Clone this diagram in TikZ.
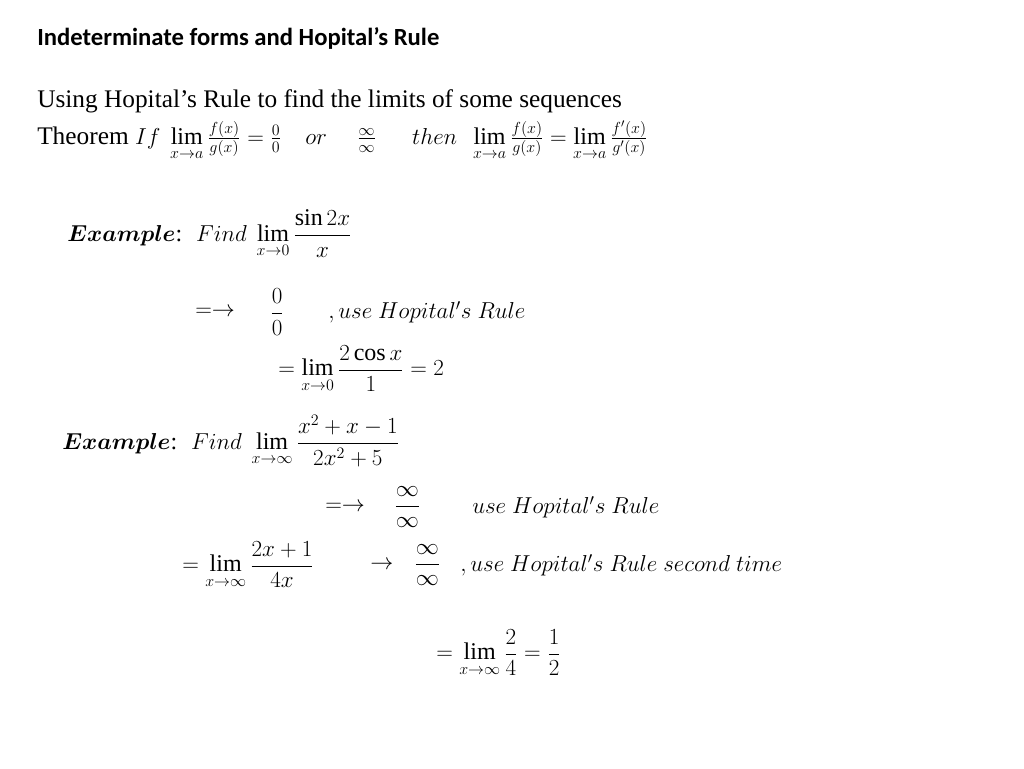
\documentclass[tikz,border=0pt]{standalone}
\usepackage{amsmath,amssymb,bm}
\usepackage{fontspec}
\setmainfont{Liberation Serif}
\newfontfamily\titlefont{Carlito}
\usetikzlibrary{positioning}
\tikzset{
  line/.style={anchor=west,inner sep=0pt,font=\fontsize{18}{21}\selectfont},
  plain/.style={anchor=west,inner sep=0pt,font=\fontsize{19}{22}\selectfont},
  heading/.style={anchor=west,inner sep=0pt,font=\titlefont\bfseries\fontsize{18.5}{22}\selectfont}
}
\begin{document}
\begin{tikzpicture}[x=0.75pt,y=0.75pt,yscale=-1,xscale=1]
  \useasboundingbox (0,0) rectangle (1024,768);
  \node[heading] (title) at (37,38) {Indeterminate forms and Hopital’s Rule};
  \node[plain] (intro) at (37,101) {Using Hopital’s Rule to find the limits of some sequences};
  \node[plain] (thm) at (37,141) {Theorem {\fontsize{18}{21}\selectfont$If\ \displaystyle\lim_{x\to a}\tfrac{f(x)}{g(x)}=\tfrac{0}{0}\quad or\quad\ \tfrac{\infty}{\infty}\quad\ \ then\ \ \lim_{x\to a}\tfrac{f(x)}{g(x)}=\lim_{x\to a}\tfrac{f'(x)}{g'(x)}$}};
  % first example
  \node[line] (exA) at (67,234) {$\bm{Example}$: \ $Find\ \displaystyle\lim_{x\to0}\frac{\sin 2x}{x}$};
  \node[line] (exAa) at (195,312) {$=\rightarrow$};
  \node[line] (exAb) at (270,312) {$\displaystyle\frac{0}{0}$};
  \node[line] (exAc) at (328,312) {$,use\ Hopital's\ Rule$};
  \node[line] (exAd) at (278,369) {$\displaystyle=\lim_{x\to0}\frac{2\cos x}{1}=2$};
  % second example
  \node[line] (exB) at (62,441) {$\bm{Example}$: \ $Find\ \displaystyle\lim_{x\to\infty}\frac{x^2+x-1}{2x^2+5}$};
  \node[line] (exBa) at (325,507) {$=\rightarrow$};
  \node[line] (exBb) at (394,507) {$\displaystyle\frac{\infty}{\infty}$};
  \node[line] (exBc) at (472,507) {$use\ Hopital's\ Rule$};
  \node[line] (exBd) at (182,565) {$\displaystyle=\lim_{x\to\infty}\frac{2x+1}{4x}$};
  \node[line] (exBe) at (370,565) {$\rightarrow$};
  \node[line] (exBf) at (414,565) {$\displaystyle\frac{\infty}{\infty}$};
  \node[line] (exBg) at (460,565) {$,use\ Hopital's\ Rule\ second\ time$};
  \node[line] (exBh) at (436,653) {$\displaystyle=\lim_{x\to\infty}\frac{2}{4}=\frac{1}{2}$};
\end{tikzpicture}
\end{document}
